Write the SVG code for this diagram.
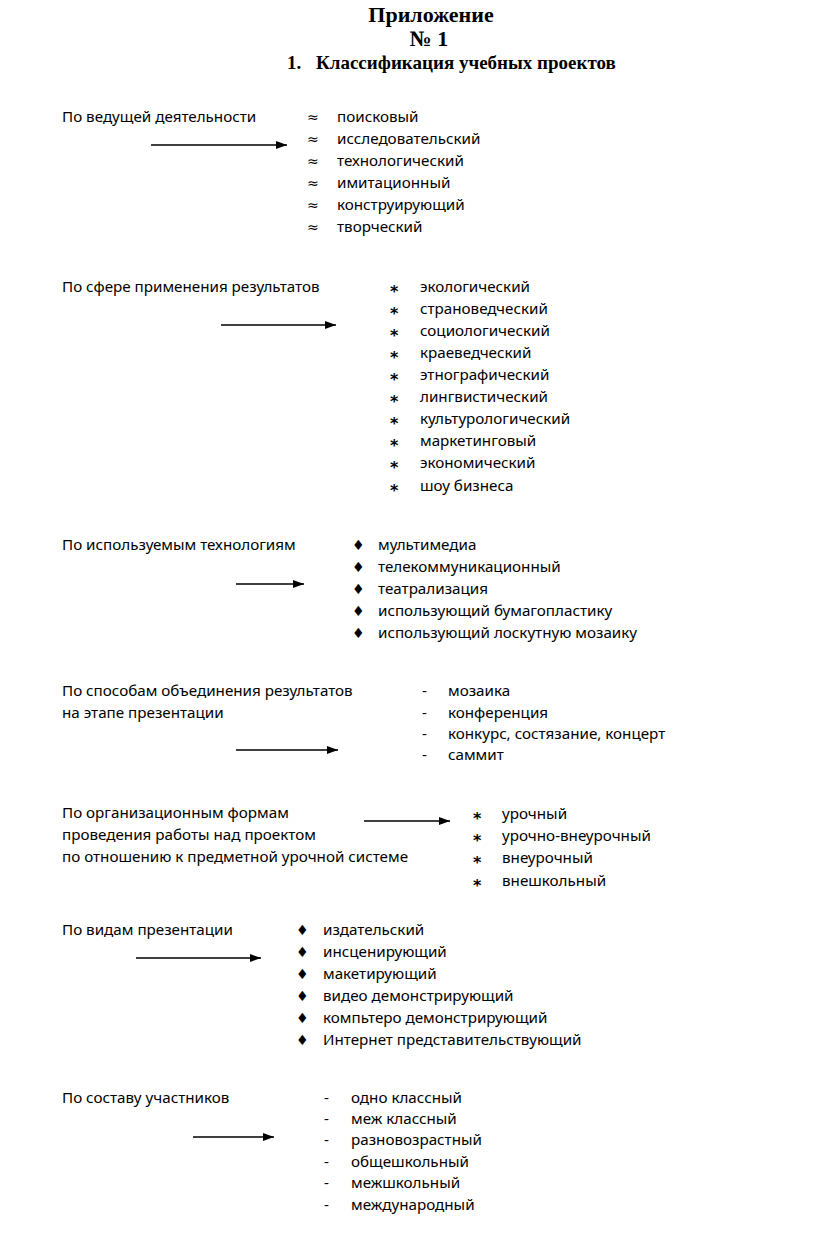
<svg xmlns="http://www.w3.org/2000/svg" width="816" height="1254" viewBox="0 0 816 1254">
<defs>
<marker id="ah" markerWidth="11" markerHeight="8" refX="11" refY="4" orient="auto" markerUnits="userSpaceOnUse">
<path d="M0,0 L11,4 L0,8 Z" fill="#000"/>
</marker>
<style>
.t{font-family:"Times New Roman","Liberation Serif",serif;font-weight:bold;font-size:19px;fill:#000}
.tl{font-size:22px}
.s{font-family:"Noto Sans","Open Sans",sans-serif;font-size:15.2px;fill:#000}
.b{font-family:"DejaVu Sans",sans-serif;font-size:14px;fill:#000}
.a{font-family:"DejaVu Sans",sans-serif;font-size:16px;font-weight:bold;fill:#000}
.c{stroke:#000;stroke-width:1.5;fill:none;marker-end:url(#ah)}
</style>
</defs>
<rect width="816" height="1254" fill="#fff"/>
<g id="title">
<text class="t tl" x="431" y="22" text-anchor="middle">Приложение</text>
<text class="t tl" x="429" y="46" text-anchor="middle">№ 1</text>
<text class="t" x="287" y="69">1.</text>
<text class="t" x="316" y="69">Классификация учебных проектов</text>
</g>
<g id="n1">
<text class="s" x="62" y="122">По ведущей деятельности</text>
<g class="b">
<text x="307" y="122">≈</text><text x="307" y="144">≈</text><text x="307" y="166">≈</text><text x="307" y="188">≈</text><text x="307" y="210">≈</text><text x="307" y="232">≈</text>
</g>
<text class="s" x="337" y="122">поисковый</text>
<text class="s" x="337" y="144">исследовательский</text>
<text class="s" x="337" y="166">технологический</text>
<text class="s" x="337" y="188">имитационный</text>
<text class="s" x="337" y="210">конструирующий</text>
<text class="s" x="337" y="232">творческий</text>
</g>
<g id="n2">
<text class="s" x="62" y="292">По сфере применения результатов</text>
<g class="a">
<text x="390" y="297">*</text><text x="390" y="319">*</text><text x="390" y="341">*</text><text x="390" y="363">*</text><text x="390" y="385">*</text><text x="390" y="407">*</text><text x="390" y="429">*</text><text x="390" y="451">*</text><text x="390" y="473">*</text><text x="390" y="496">*</text>
</g>
<text class="s" x="420" y="292">экологический</text>
<text class="s" x="420" y="314">страноведческий</text>
<text class="s" x="420" y="336">социологический</text>
<text class="s" x="420" y="358">краеведческий</text>
<text class="s" x="420" y="380">этнографический</text>
<text class="s" x="420" y="402">лингвистический</text>
<text class="s" x="420" y="424">культурологический</text>
<text class="s" x="420" y="446">маркетинговый</text>
<text class="s" x="420" y="468">экономический</text>
<text class="s" x="420" y="491">шоу бизнеса</text>
</g>
<g id="n3">
<text class="s" x="62" y="550">По используемым технологиям</text>
<g class="b">
<text x="352" y="550">♦</text><text x="352" y="572">♦</text><text x="352" y="594">♦</text><text x="352" y="616">♦</text><text x="352" y="638">♦</text>
</g>
<text class="s" x="378" y="550">мультимедиа</text>
<text class="s" x="378" y="572">телекоммуникационный</text>
<text class="s" x="378" y="594">театрализация</text>
<text class="s" x="378" y="616">использующий бумагопластику</text>
<text class="s" x="378" y="638">использующий лоскутную мозаику</text>
</g>
<g id="n4">
<text class="s" x="62" y="696">По способам объединения результатов</text>
<text class="s" x="62" y="718">на этапе презентации</text>
<g class="s">
<text x="422" y="696">-</text><text x="422" y="718">-</text><text x="422" y="739">-</text><text x="422" y="760">-</text>
</g>
<text class="s" x="448" y="696">мозаика</text>
<text class="s" x="448" y="718">конференция</text>
<text class="s" x="448" y="739">конкурс, состязание, концерт</text>
<text class="s" x="448" y="760">саммит</text>
</g>
<g id="n5">
<text class="s" x="62" y="818">По организационным формам</text>
<text class="s" x="62" y="840">проведения работы над проектом</text>
<text class="s" x="62" y="862">по отношению к предметной урочной системе</text>
<g class="a">
<text x="473" y="824">*</text><text x="473" y="846">*</text><text x="473" y="868">*</text><text x="473" y="891">*</text>
</g>
<text class="s" x="502" y="819">урочный</text>
<text class="s" x="502" y="841">урочно-внеурочный</text>
<text class="s" x="502" y="863">внеурочный</text>
<text class="s" x="502" y="886">внешкольный</text>
</g>
<g id="n6">
<text class="s" x="62" y="935">По видам презентации</text>
<g class="b">
<text x="296" y="935">♦</text><text x="296" y="957">♦</text><text x="296" y="979">♦</text><text x="296" y="1001">♦</text><text x="296" y="1023">♦</text><text x="296" y="1045">♦</text>
</g>
<text class="s" x="323" y="935">издательский</text>
<text class="s" x="323" y="957">инсценирующий</text>
<text class="s" x="323" y="979">макетирующий</text>
<text class="s" x="323" y="1001">видео демонстрирующий</text>
<text class="s" x="323" y="1023">компьтеро демонстрирующий</text>
<text class="s" x="323" y="1045">Интернет представительствующий</text>
</g>
<g id="n7">
<text class="s" x="62" y="1103">По составу участников</text>
<g class="s">
<text x="324" y="1103">-</text><text x="324" y="1124">-</text><text x="324" y="1145">-</text><text x="324" y="1167">-</text><text x="324" y="1188">-</text><text x="324" y="1210">-</text>
</g>
<text class="s" x="351" y="1103">одно классный</text>
<text class="s" x="351" y="1124">меж классный</text>
<text class="s" x="351" y="1145">разновозрастный</text>
<text class="s" x="351" y="1167">общешкольный</text>
<text class="s" x="351" y="1188">межшкольный</text>
<text class="s" x="351" y="1210">международный</text>
</g>
<g id="connectors">
<line class="c" x1="151" y1="145" x2="287" y2="145"/>
<line class="c" x1="221" y1="325" x2="336" y2="325"/>
<line class="c" x1="236" y1="584" x2="304" y2="584"/>
<line class="c" x1="236" y1="750" x2="338" y2="750"/>
<line class="c" x1="364" y1="821" x2="450" y2="821"/>
<line class="c" x1="136" y1="958" x2="261" y2="958"/>
<line class="c" x1="193" y1="1137" x2="274" y2="1137"/>
</g>
</svg>
